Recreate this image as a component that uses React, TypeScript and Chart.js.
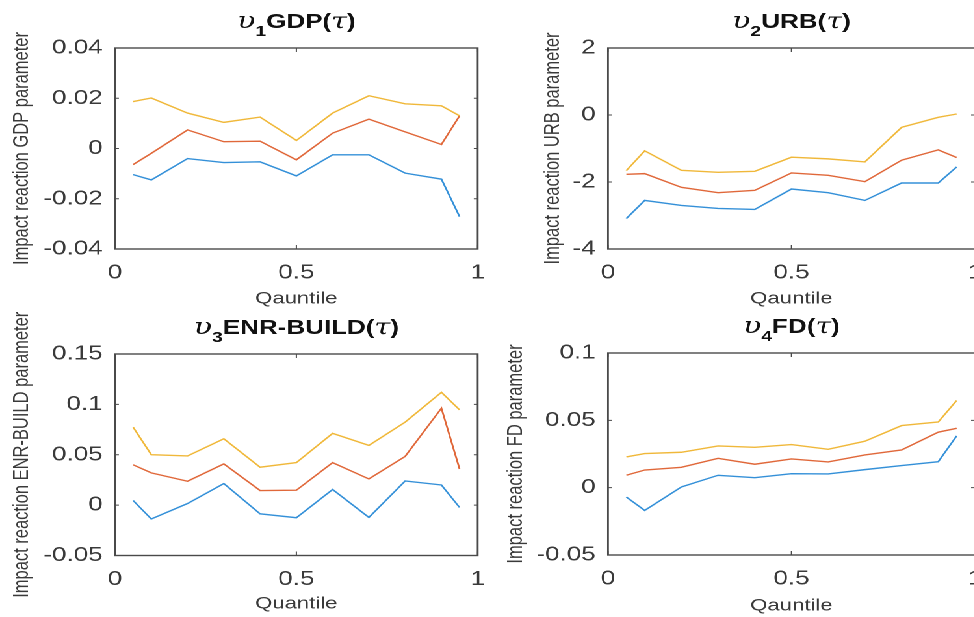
import React, { useEffect, useRef } from 'react';
import { Chart, registerables } from 'chart.js';

Chart.register(...registerables);

// ---------- data ----------
const quantiles = [0.05, 0.1, 0.2, 0.3, 0.4, 0.5, 0.6, 0.7, 0.8, 0.9, 0.95];

const gdpHigh = [0.0187, 0.0201, 0.0141, 0.0104, 0.0125, 0.0032, 0.0141, 0.021, 0.0178, 0.017, 0.013];
const gdpMid = [-0.0064, -0.0019, 0.0074, 0.0027, 0.0029, -0.0045, 0.0061, 0.0117, 0.0066, 0.0016, 0.013];
const gdpLow = [-0.0104, -0.0125, -0.004, -0.0056, -0.0053, -0.0109, -0.0025, -0.0025, -0.0098, -0.0122, -0.0271];

const urbHigh = [-1.66, -1.07, -1.65, -1.71, -1.68, -1.26, -1.31, -1.4, -0.37, -0.07, 0.03];
const urbMid = [-1.77, -1.75, -2.16, -2.32, -2.25, -1.73, -1.8, -1.99, -1.35, -1.04, -1.27];
const urbLow = [-3.09, -2.55, -2.7, -2.79, -2.82, -2.21, -2.32, -2.55, -2.03, -2.03, -1.55];

const enrHigh = [0.0774, 0.05, 0.0488, 0.0659, 0.0376, 0.0422, 0.0712, 0.0593, 0.0824, 0.112, 0.0946];
const enrMid = [0.04, 0.032, 0.0237, 0.0409, 0.0145, 0.0148, 0.0422, 0.026, 0.0484, 0.0962, 0.0359];
const enrLow = [0.0046, -0.0138, 0.0016, 0.0214, -0.0086, -0.0125, 0.0155, -0.0122, 0.024, 0.02, -0.0023];

const fdHigh = [0.0228, 0.0253, 0.0263, 0.031, 0.03, 0.032, 0.0285, 0.0345, 0.0461, 0.0488, 0.0647];
const fdMid = [0.0092, 0.0131, 0.0151, 0.0218, 0.0174, 0.0213, 0.0191, 0.0243, 0.028, 0.0412, 0.0441];
const fdLow = [-0.0069, -0.0169, 0.0005, 0.0092, 0.0074, 0.0104, 0.0102, 0.0134, 0.0164, 0.0193, 0.0384];

const titleNames = ['GDP', 'URB', 'ENR-BUILD', 'FD'];
const titleSubs = ['1', '2', '3', '4'];
const yTitles = [
  'Impact reaction GDP parameter',
  'Impact reaction URB parameter',
  'Impact reaction ENR-BUILD parameter',
  'Impact reaction FD parameter',
];
const xTitles = ['Qauntile', 'Qauntile', 'Quantile', 'Qauntile'];
const xTicks = [0, 0.5, 1];
const yMins = [-0.04, -4, -0.05, -0.05];
const yMaxs = [0.04, 2, 0.15, 0.1];
const ySteps = [0.02, 2, 0.05, 0.05];

const seriesSets = [
  [gdpHigh, gdpMid, gdpLow],
  [urbHigh, urbMid, urbLow],
  [enrHigh, enrMid, enrLow],
  [fdHigh, fdMid, fdLow],
];

// ---------- style ----------
const S = 1.3; // horizontal stretch of the figure
const SANS = "'Liberation Sans', Arial, sans-serif";
const SERIF = "'DejaVu Serif', 'Liberation Serif', serif";
const lineColors = ['#f0b83a', '#e0683a', '#3490d8'];
const axisColor = '#4a4a4a';
const textColor = '#3a3a3a';

// page coordinates of plot boxes
const plotL = [115, 608, 115, 608];
const plotR = [480, 975, 480, 975];
const plotT = [48, 48, 354, 353];
const plotB = [249, 249, 555.5, 555];
const canvL = [0, 385, 0, 385];
const canvT = [0, 0, 310, 310];
const canvW = [385, 385, 385, 385];
const canvH = [310, 310, 307, 307];
const yTitlePad = [7, 30.5, 7, 2];
const xTitlePad = [0.8, 0.8, 2.8, 0.8];

function fmt(v: number) {
  return String(Number(v.toFixed(4)));
}

function Panel({ idx }: { idx: number }) {
  const ref = useRef<HTMLCanvasElement | null>(null);

  useEffect(() => {
    const canvas = ref.current;
    if (!canvas) return;
    const cl = canvL[idx];
    const ct = canvT[idx];
    const cw = canvW[idx];
    const ch = canvH[idx];
    const wy = plotL[idx] / S - cl;
    const rightPad = cw - (plotR[idx] / S - cl);
    const topPad = plotT[idx] - ct;
    const hx = ch - (plotB[idx] - ct);

    const framePlugin = {
      id: 'frame' + idx,
      afterDatasetsDraw(chart: any) {
        const ctx = chart.ctx;
        const { left, right, top, bottom } = chart.chartArea;
        ctx.save();
        ctx.strokeStyle = axisColor;
        ctx.lineWidth = 1.4;
        ctx.strokeRect(left, top, right - left, bottom - top);
        ctx.lineWidth = 1;
        const ys = chart.scales.y;
        ys.ticks.forEach((t: any) => {
          const py = ys.getPixelForValue(t.value);
          ctx.beginPath();
          ctx.moveTo(left, py);
          ctx.lineTo(left + 3, py);
          ctx.moveTo(right - 3, py);
          ctx.lineTo(right, py);
          ctx.stroke();
        });
        const xs = chart.scales.x;
        xs.ticks.forEach((t: any) => {
          const px = xs.getPixelForValue(t.value);
          ctx.beginPath();
          ctx.moveTo(px, bottom);
          ctx.lineTo(px, bottom - 4);
          ctx.moveTo(px, top);
          ctx.lineTo(px, top + 4);
          ctx.stroke();
        });
        // title
        const cx = (left + right) / 2;
        const base = top - 20;
        const pieces = [
          { text: '\u03C5', font: `italic 23px ${SERIF}`, dy: 0 },
          { text: titleSubs[idx], font: `bold 15px ${SANS}`, dy: 8 },
          { text: titleNames[idx] + '(', font: `bold 20px ${SANS}`, dy: 0 },
          { text: '\u03C4', font: `italic 22px ${SERIF}`, dy: 0 },
          { text: ')', font: `bold 20px ${SANS}`, dy: 0 },
        ];
        let total = 0;
        const widths = pieces.map((p) => {
          ctx.font = p.font;
          const w = ctx.measureText(p.text).width;
          total += w;
          return w;
        });
        let x = cx - total / 2;
        ctx.fillStyle = '#111';
        ctx.textBaseline = 'alphabetic';
        ctx.textAlign = 'left';
        pieces.forEach((p, i) => {
          ctx.font = p.font;
          ctx.fillText(p.text, x, base + p.dy);
          x += widths[i];
        });
        ctx.restore();
      },
    };

    const chart = new Chart(canvas, {
      type: 'line',
      data: {
        datasets: seriesSets[idx].map((vals, k) => ({
          data: quantiles.map((q, i) => ({ x: q, y: vals[i] })),
          borderColor: lineColors[k],
          backgroundColor: lineColors[k],
          borderWidth: 1.4,
          pointRadius: 0,
          tension: 0,
          fill: false,
        })),
      },
      options: {
        animation: false,
        responsive: false,
        devicePixelRatio: 2,
        layout: { padding: { left: 0, right: rightPad, top: topPad, bottom: 0 } },
        plugins: {
          legend: { display: false },
          tooltip: { enabled: false },
          title: { display: false },
        },
        scales: {
          x: {
            type: 'linear',
            min: 0,
            max: 1,
            afterBuildTicks: (s: any) => {
              s.ticks = xTicks.map((v) => ({ value: v }));
            },
            ticks: {
              padding: 12,
              color: textColor,
              font: { size: 20, family: SANS },
              maxRotation: 0,
              callback: (v: any) => fmt(Number(v)),
            },
            grid: { display: false, drawTicks: false },
            border: { display: false },
            title: {
              display: true,
              text: xTitles[idx],
              color: textColor,
              font: { size: 17, family: SANS },
              padding: { top: 0, bottom: xTitlePad[idx] },
            },
            afterFit: (s: any) => {
              s.height = hx;
            },
          },
          y: {
            type: 'linear',
            min: yMins[idx],
            max: yMaxs[idx],
            ticks: {
              stepSize: ySteps[idx],
              padding: 9.5,
              color: textColor,
              font: { size: 20, family: SANS },
              callback: (v: any) => fmt(Number(v)),
            },
            grid: { display: false, drawTicks: false },
            border: { display: false },
            title: {
              display: true,
              text: yTitles[idx],
              color: textColor,
              font: { size: 16.5, family: SANS },
              padding: { top: yTitlePad[idx], bottom: 0 },
            },
            afterFit: (s: any) => {
              s.width = wy;
            },
          },
        },
      } as any,
      plugins: [framePlugin],
    });
    return () => chart.destroy();
  }, [idx]);

  return (
    <div
      style={{
        position: 'absolute',
        left: canvL[idx],
        top: canvT[idx],
        width: canvW[idx],
        height: canvH[idx],
      }}
    >
      <canvas ref={ref} width={canvW[idx]} height={canvH[idx]} />
    </div>
  );
}

export default function App() {
  return (
    <div
      style={{
        position: 'absolute',
        left: 0,
        top: 0,
        width: 974,
        height: 617,
        overflow: 'hidden',
        background: '#fff',
      }}
    >
      <div
        style={{
          position: 'absolute',
          left: 0,
          top: 0,
          width: 974 / S,
          height: 617,
          transform: `scaleX(${S})`,
          transformOrigin: '0 0',
        }}
      >
        {[0, 1, 2, 3].map((i) => (
          <Panel key={i} idx={i} />
        ))}
      </div>
    </div>
  );
}
